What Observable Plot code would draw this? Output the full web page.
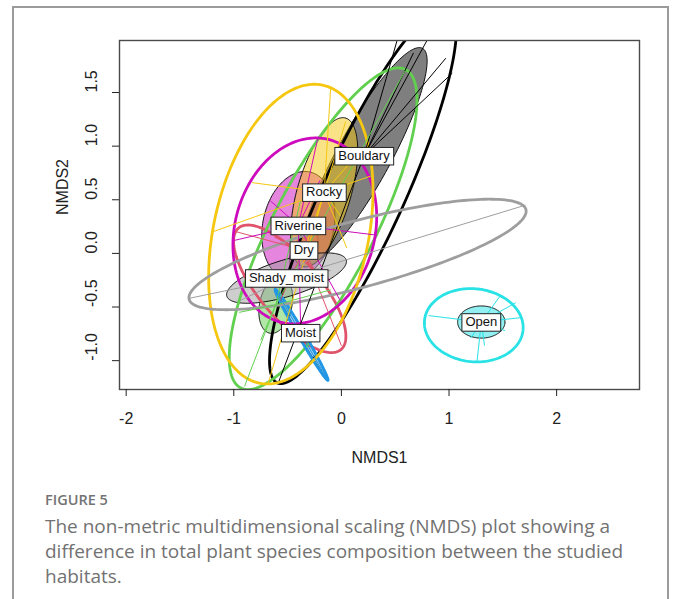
<!DOCTYPE html>
<html>
<head>
<meta charset="utf-8">
<script src="https://cdn.jsdelivr.net/npm/d3@7"></script>
<script src="https://cdn.jsdelivr.net/npm/@observablehq/plot@0.6"></script>
<style>
html,body{margin:0;padding:0;background:#fff;}
body{width:680px;height:599px;overflow:hidden;position:relative;}
#box{position:absolute;left:12px;top:6px;width:653px;height:640px;border:2px solid #9b9b9b;border-bottom:none;}
#chart{position:absolute;left:0;top:0;}
#chart svg, #chart svg text{font-family:"Liberation Sans",Arial,sans-serif !important;}
#chart svg text{font-size:16px !important;}
#chart svg text.lbl{font-size:13px !important;}
#figlabel{position:absolute;left:45px;top:490px;font-family:"Open Sans",sans-serif;font-size:14.5px;font-weight:600;color:#737373;}
#caption{position:absolute;left:45px;top:514px;font-family:"Open Sans",sans-serif;font-size:19px;line-height:25px;color:#727272;white-space:nowrap;}
</style>
</head>
<body>
<div id="box"></div>
<div id="chart"></div>
<div id="figlabel">FIGURE 5</div>
<div id="caption">The non-metric multidimensional scaling (NMDS) plot showing a<br>difference in total plant species composition between the studied<br>habitats.</div>
<script>
// ---- groups (habitats) ----
const groups = ["Bouldary", "Dry", "Unlabelled", "Moist", "Open", "Riverine", "Rocky", "Shady_moist"];
const groupColors = ["#000000", "#DF536B", "#61D04F", "#2297E6", "#28E2E5", "#CD0BBC", "#F5C710", "#9E9E9E"];
const labelShown = [true, true, false, true, true, true, true, true];

// ---- group centroids (NMDS1, NMDS2) ----
const centroidX = [0.21, -0.35, -0.61, -0.38, 1.30, -0.40, -0.16, -0.51];
const centroidY = [0.91, 0.03, -0.48, -0.74, -0.64, 0.26, 0.57, -0.23];

// ---- standard-error ellipses (filled), centred at centroids ----
const seA = [1.14, 0.20, 0.27, 0.48, 0.22, 0.51, 0.72, 0.58];
const seB = [0.25, 0.10, 0.15, 0.022, 0.15, 0.33, 0.25, 0.17];
const seAngle = [61.5, 60, 78, -60, 0, 78, 74, 17];

// ---- enclosing ellipses (outlines) ----
const hullCX = [0.20, -0.48, -0.17, -0.37, 1.23, -0.34, -0.47, 0.15];
const hullCY = [0.54, -0.33, 0.23, -0.76, -0.67, 0.21, 0.18, -0.01];
const hullA = [1.92, 0.74, 1.67, 0.49, 0.46, 0.88, 1.42, 1.62];
const hullB = [0.38, 0.28, 0.47, 0.03, 0.34, 0.65, 0.72, 0.31];
const hullAngle = [65.5, -50, 62.7, -60, -6, 75, 78, 15];

// ---- site scores (spider end points) ----
const siteGroup = [
  "Bouldary","Bouldary","Bouldary","Bouldary","Bouldary","Bouldary",
  "Dry","Dry","Dry","Dry","Dry",
  "Unlabelled","Unlabelled","Unlabelled","Unlabelled","Unlabelled","Unlabelled",
  "Moist","Moist",
  "Open","Open","Open","Open","Open","Open","Open","Open",
  "Riverine","Riverine","Riverine","Riverine","Riverine","Riverine","Riverine",
  "Rocky","Rocky","Rocky","Rocky","Rocky","Rocky","Rocky","Rocky","Rocky","Rocky","Rocky",
  "Shady_moist","Shady_moist","Shady_moist","Shady_moist","Shady_moist"
];
const siteX = [
  0.97, 1.03, 0.67, 0.95, -0.58, 0.55,
  -0.97, 0.00, -0.57, -0.20, -0.62,
  0.59, -0.90, -0.95, -0.38, -0.10, -0.75,
  -0.61, -0.13,
  0.81, 1.48, 1.62, 1.66, 1.52, 1.26, 1.33, 1.20,
  -0.22, -1.00, 0.33, -0.38, -0.01, -0.66, -0.20,
  -0.10, -1.20, -0.68, -0.83, 0.04, 0.18, -0.38, -0.01, 0.27, -0.26, 0.05,
  1.71, -1.42, -0.94, -0.10, -0.30
];
const siteY = [
  1.82, 1.68, 1.87, 2.27, -1.19, 2.10,
  0.20, -0.86, -0.44, -0.25, 0.15,
  1.70, -1.24, -0.55, 0.49, -0.34, -0.81,
  -0.34, -1.18,
  -0.58, -0.39, -0.46, -0.60, -0.72, -1.01, -0.86, -0.79,
  1.07, 0.12, 0.17, -0.64, -0.44, 0.49, 0.68,
  1.54, 0.20, -1.21, 0.66, 1.23, 0.96, -0.07, 0.35, 0.72, 0.21, 0.05,
  0.45, -0.42, -0.44, -0.16, -0.05
];

// ---- axes ----
const xTicks = [-2, -1, 0, 1, 2];
const yTicks = [-1, -0.5, 0, 0.5, 1, 1.5];
const xDomain = [-2.062, 2.770];
const yDomain = [-1.269, 1.985];

function ellipsePoints(g, cx, cy, a, b, deg) {
  const t = deg * Math.PI / 180;
  return d3.range(0, 360, 2).map(k => {
    const u = k * Math.PI / 180;
    return {
      g,
      x: cx + a * Math.cos(u) * Math.cos(t) - b * Math.sin(u) * Math.sin(t),
      y: cy + a * Math.cos(u) * Math.sin(t) + b * Math.sin(u) * Math.cos(t)
    };
  });
}
const colorOf = g => groupColors[groups.indexOf(g)];

const seMarks = groups.map((g, i) =>
  Plot.line(ellipsePoints(g, centroidX[i], centroidY[i], seA[i], seB[i], seAngle[i]), {
    x: "x", y: "y", curve: "linear-closed",
    fill: groupColors[i], fillOpacity: 0.5, stroke: "#111", strokeWidth: 1, clip: true
  })
);
const hullPts = groups.flatMap((g, i) => ellipsePoints(g, hullCX[i], hullCY[i], hullA[i], hullB[i], hullAngle[i]));
const spiders = siteGroup.map((g, k) => {
  const i = groups.indexOf(g);
  return {g, x1: centroidX[i], y1: centroidY[i], x2: siteX[k], y2: siteY[k]};
});
const labels = groups.map((g, i) => ({g, x: centroidX[i], y: centroidY[i]})).filter((d, i) => labelShown[i]);

const chart = Plot.plot({
  width: 680,
  height: 480,
  marginLeft: 119,
  marginRight: 41,
  marginTop: 40,
  marginBottom: 91,
  style: {background: "transparent", color: "#222"},
  x: {domain: xDomain},
  y: {domain: yDomain},
  color: {type: "identity"},
  marks: [
    ...seMarks,
    Plot.line(hullPts, {x: "x", y: "y", z: "g", stroke: d => colorOf(d.g), strokeWidth: 2.8, curve: "linear-closed", clip: true}),
    Plot.link(spiders, {x1: "x1", y1: "y1", x2: "x2", y2: "y2", stroke: d => colorOf(d.g), strokeWidth: 1, clip: true}),
    Plot.text(labels, {x: "x", y: "y", text: "g", fill: "#111"}),
    Plot.frame({stroke: "#4a4a4a", strokeWidth: 1.4}),
    Plot.axisX(xTicks, {tickSize: 7, tickPadding: 16, tickFormat: d => String(d), label: null}),
    Plot.axisY(yTicks, {tickSize: 7, tickFormat: () => "", label: null}),
    Plot.text(yTicks, {y: d => d, text: d => d3.format(".1f")(d).replace("−", "-"), frameAnchor: "left", dx: -28, rotate: -90}),
    Plot.text(["NMDS1"], {text: d => d, frameAnchor: "bottom", dy: 68, lineAnchor: "middle"}),
    Plot.text(["NMDS2"], {text: d => d, frameAnchor: "left", dx: -57, rotate: -90})
  ]
});
document.getElementById("chart").appendChild(chart);

// white boxes behind the group labels
const labelNames = new Set(labels.map(d => d.g));
chart.querySelectorAll("text").forEach(t => {
  if (!labelNames.has(t.textContent)) return;
  t.classList.add("lbl");
  const bb = t.getBBox();
  const r = document.createElementNS("http://www.w3.org/2000/svg", "rect");
  r.setAttribute("x", bb.x - 3.5);
  r.setAttribute("y", bb.y - 0.5);
  r.setAttribute("width", bb.width + 7);
  r.setAttribute("height", bb.height + 2.5);
  r.setAttribute("fill", "#fff");
  r.setAttribute("stroke", "#222");
  r.setAttribute("stroke-width", "1");
  const tr = t.getAttribute("transform");
  if (tr) r.setAttribute("transform", tr);
  t.parentNode.insertBefore(r, t);
});
</script>
</body>
</html>
